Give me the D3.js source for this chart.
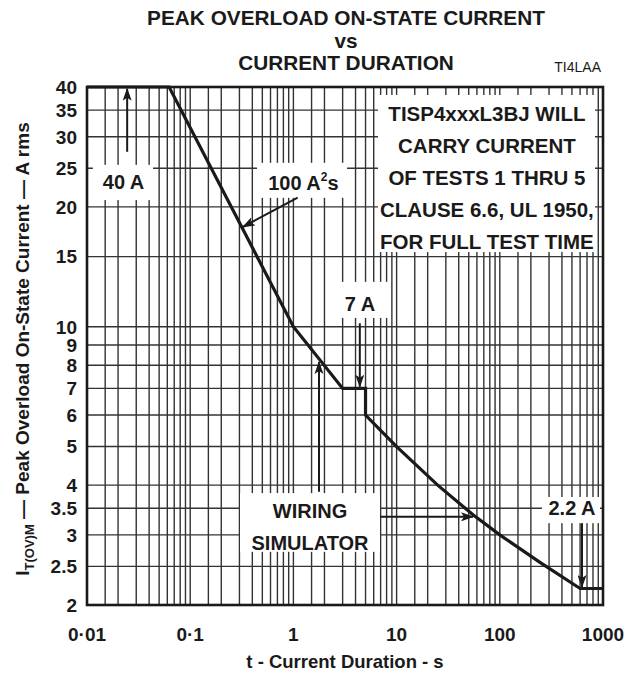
<!DOCTYPE html>
<html>
<head>
<meta charset="utf-8">
<script src="https://d3js.org/d3.v7.min.js"></script>
<style>
  body { margin: 0; background: #fff; }
  text { font-family: "Liberation Sans", Arial, sans-serif; fill: #1a1a1a; }
</style>
</head>
<body>
<div id="graph"></div>
<script>
const width = 628;
const height = 680;
const margin = { top: 87, bottom: 75, left: 87, right: 25 };

// axis ticks
const tTicks = [0.01, 0.1, 1, 10, 100, 1000];
const tTickLabels = ["0·01", "0·1", "1", "10", "100", "1000"];
const iTicks = [2, 2.5, 3, 3.5, 4, 5, 6, 7, 8, 9, 10, 15, 20, 25, 30, 35, 40];
const tMinor = [1, 1.5, 2, 3, 4, 5, 6, 7, 8, 9];

// the curve
const curveT = [0.01, 0.0625, 1, 3, 5, 5, 10, 25, 55, 100, 245, 600, 1000];
const curveI = [40, 40, 10, 7, 7, 6, 5, 4, 3.37, 3, 2.56, 2.2, 2.2];

// white boxes behind labels [t0, t1, Itop, Ibottom]
const boxes = [
  [0.0114, 0.0436, 25.5, 20.8],
  [0.444, 3.31, 25.8, 21.07],
  [6.6, 836, 38.2, 15.4],
  [2.31, 8.26, 12.96, 10.52],
  [0.304, 6.9, 3.82, 2.72],
  [256, 935, 3.735, 3.21]
];

// arrows
const arrowFrom = [[0.0245, 27.5], [1.1, 21.1], [4.4, 10.2], [1.77, 3.85], [6.9, 3.33], [626, 3.21]];
const arrowTo = [[0.0245, 39.6], [0.323, 17.8], [4.4, 7.07], [1.77, 8.15], [55, 3.33], [626, 2.22]];

// labels: text, t, I (baseline)
const labelText = ["40 A", "7 A", "WIRING", "SIMULATOR", "2.2 A"];
const labelT = [0.0226, 4.42, 1.45, 1.45, 501];
const labelI = [22.2, 10.96, 3.31, 2.75, 3.37];

const noteLines = ["TISP4xxxL3BJ WILL", "CARRY CURRENT", "OF TESTS 1 THRU 5", "CLAUSE 6.6, UL 1950,", "FOR FULL TEST TIME"];

const svg = d3.select("#graph").append("svg")
  .attr("width", width)
  .attr("height", height);

const x = d3.scaleLog().domain([0.01, 1000]).range([margin.left, width - margin.right]);
const y = d3.scaleLog().domain([2, 40]).range([height - margin.bottom, margin.top]);

const x0 = x.range()[0], x1 = x.range()[1];
const y0 = y.range()[1], y1 = y.range()[0];

// grid
var gridT = [];
for (let d = 0.01; d < 1000; d *= 10) {
  tMinor.forEach(m => { let v = +(d * m).toPrecision(3); if (v > 0.01) gridT.push(v); });
}
const grid = svg.append("g").attr("stroke", "#333").attr("stroke-width", 1.4);
grid.selectAll(".vg").data(gridT).enter().append("line")
  .attr("x1", d => x(d)).attr("x2", d => x(d))
  .attr("y1", y0).attr("y2", y1);
grid.selectAll(".hg").data(iTicks.slice(1, -1)).enter().append("line")
  .attr("x1", x0).attr("x2", x1)
  .attr("y1", d => y(d)).attr("y2", d => y(d));

// label boxes
svg.append("g").selectAll("rect").data(boxes).enter().append("rect")
  .attr("x", d => x(d[0])).attr("width", d => x(d[1]) - x(d[0]))
  .attr("y", d => y(d[2])).attr("height", d => y(d[3]) - y(d[2]))
  .attr("fill", "#fff");

// frame
svg.append("rect")
  .attr("x", x0).attr("y", y0)
  .attr("width", x1 - x0).attr("height", y1 - y0)
  .attr("fill", "none").attr("stroke", "#1a1a1a").attr("stroke-width", 2.6);

// curve
const line = d3.line().x(d => x(d[0])).y(d => y(d[1]));
svg.append("path")
  .attr("d", line(d3.zip(curveT, curveI)))
  .attr("fill", "none").attr("stroke", "#1a1a1a").attr("stroke-width", 3.2)
  .attr("stroke-linejoin", "miter");

// arrow marker
svg.append("defs").append("marker")
  .attr("id", "arr").attr("viewBox", "0 0 13 9")
  .attr("refX", 12).attr("refY", 4.5)
  .attr("markerWidth", 13).attr("markerHeight", 9)
  .attr("markerUnits", "userSpaceOnUse")
  .attr("orient", "auto")
  .append("path").attr("d", "M0,0 L13,4.5 L0,9 L3,4.5 Z").attr("fill", "#1a1a1a");

svg.append("g").selectAll("line").data(d3.zip(arrowFrom, arrowTo)).enter().append("line")
  .attr("x1", d => x(d[0][0])).attr("y1", d => y(d[0][1]))
  .attr("x2", d => x(d[1][0])).attr("y2", d => y(d[1][1]))
  .attr("stroke", "#1a1a1a").attr("stroke-width", 2)
  .attr("marker-end", "url(#arr)");

// annotation labels
svg.append("g").selectAll("text").data(labelText).enter().append("text")
  .attr("x", (d, i) => x(labelT[i]))
  .attr("y", (d, i) => y(labelI[i]))
  .attr("text-anchor", "middle")
  .attr("font-size", 20).attr("font-weight", "bold")
  .text(d => d);

const a2s = svg.append("text")
  .attr("x", x(1.25)).attr("y", y(22.06))
  .attr("text-anchor", "middle")
  .attr("font-size", 20).attr("font-weight", "bold");
a2s.append("tspan").text("100 A");
a2s.append("tspan").attr("font-size", 12).attr("dy", -9).text("2");
a2s.append("tspan").attr("dy", 9).text("s");

svg.append("g").selectAll("text").data(noteLines).enter().append("text")
  .attr("x", x(75))
  .attr("y", (d, i) => y(32.9) + i * 32)
  .attr("text-anchor", "middle")
  .attr("font-size", 20.5).attr("font-weight", "bold")
  .text(d => d);

// tick labels
svg.append("g").selectAll("text").data(iTicks).enter().append("text")
  .attr("x", x0 - 10).attr("y", d => y(d))
  .attr("dy", "0.36em")
  .attr("text-anchor", "end")
  .attr("font-size", 19).attr("font-weight", "bold")
  .text(d => d);

svg.append("g").selectAll("text").data(tTicks).enter().append("text")
  .attr("x", d => x(d)).attr("y", y1 + 36)
  .attr("text-anchor", "middle")
  .attr("font-size", 19).attr("font-weight", "bold")
  .text((d, i) => tTickLabels[i]);

// axis titles
svg.append("text")
  .attr("x", (x0 + x1) / 2).attr("y", 668)
  .attr("text-anchor", "middle")
  .attr("font-size", 18.5).attr("font-weight", "bold")
  .text("t - Current Duration - s");

const yl = svg.append("text")
  .attr("transform", "translate(29," + ((y0 + y1) / 2 + 3) + ") rotate(-90)")
  .attr("text-anchor", "middle")
  .attr("font-size", 19).attr("font-weight", "bold");
yl.append("tspan").text("I");
yl.append("tspan").attr("font-size", 13).attr("dy", 5).text("T(OV)M");
yl.append("tspan").attr("dy", -5).text(" \u2014 Peak Overload On-State Current \u2014 A rms");

// title
const titleLines = ["PEAK OVERLOAD ON-STATE CURRENT", "vs", "CURRENT DURATION"];
svg.append("g").selectAll("text").data(titleLines).enter().append("text")
  .attr("x", (x0 + x1) / 2 + 1).attr("y", (d, i) => 25 + i * 22.5)
  .attr("text-anchor", "middle")
  .attr("font-size", 20.8).attr("font-weight", "bold")
  .text(d => d);

svg.append("text")
  .attr("x", x1 - 2).attr("y", 72)
  .attr("text-anchor", "end")
  .attr("font-size", 14)
  .text("TI4LAA");
</script>
</body>
</html>
